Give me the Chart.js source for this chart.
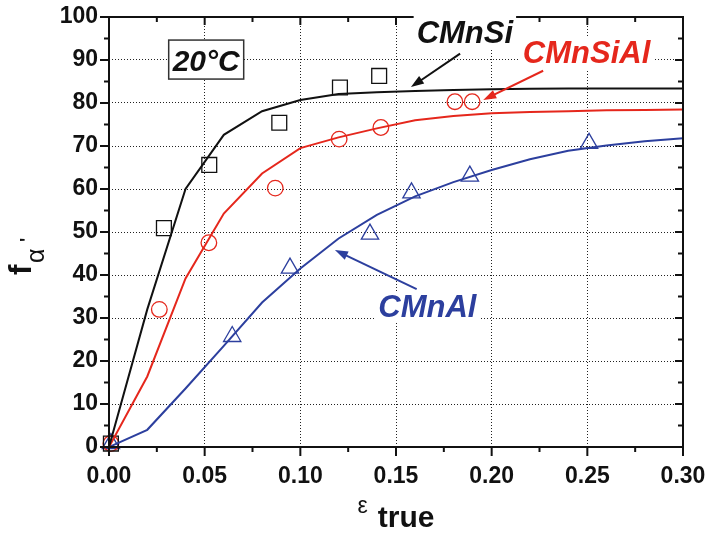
<!DOCTYPE html>
<html>
<head>
<meta charset="utf-8">
<script src="https://cdn.jsdelivr.net/npm/chart.js@4.4.1/dist/chart.umd.min.js"></script>
<style>
html,body{margin:0;padding:0;background:#fff;}
#wrap{width:707px;height:533px;}
</style>
</head>
<body>
<div id="wrap"><canvas id="c" width="707" height="533"></canvas></div>
<script>
// ---- data ----
const fitStrain = [0, 0.02, 0.04, 0.06, 0.08, 0.10, 0.12, 0.14, 0.16, 0.18, 0.20, 0.22, 0.24, 0.26, 0.28, 0.30];
const fitCMnSi   = [0, 32, 60, 72.6, 78.1, 80.7, 82.1, 82.5, 82.8, 83.0, 83.2, 83.3, 83.4, 83.4, 83.4, 83.4];
const fitCMnSiAl = [0, 16.4, 39.2, 54.3, 63.6, 69.5, 72.0, 74.1, 76.0, 77.0, 77.6, 77.9, 78.1, 78.3, 78.4, 78.5];
const fitCMnAl   = [0, 4.0, 13.6, 23.5, 33.6, 41.5, 48.5, 54.0, 58.3, 61.6, 64.4, 66.9, 68.9, 70.1, 71.1, 71.8];

const expCMnSiX   = [0.001, 0.0287, 0.0524, 0.0890, 0.1207, 0.1412];
const expCMnSiY   = [0.8, 50.9, 65.6, 75.4, 83.6, 86.3];
const expCMnSiAlX = [0.001, 0.0263, 0.0522, 0.0869, 0.1203, 0.1421, 0.1808, 0.1898];
const expCMnSiAlY = [0.8, 32.0, 47.5, 60.2, 71.6, 74.3, 80.3, 80.3];
const expCMnAlX   = [0.001, 0.0644, 0.0946, 0.1364, 0.1581, 0.1886, 0.2509];
const expCMnAlY   = [0.8, 25.7, 41.6, 49.5, 59.1, 63.0, 70.6];

const xTicks = [0, 0.05, 0.10, 0.15, 0.20, 0.25, 0.30];
const xMinorTicks = [0.025, 0.075, 0.125, 0.175, 0.225, 0.275];
const yTicks = [0, 10, 20, 30, 40, 50, 60, 70, 80, 90, 100];
const yMinorTicks = [5, 15, 25, 35, 45, 55, 65, 75, 85, 95];

const seriesNames = ['CMnSi', 'CMnSiAl', 'CMnAl'];
// ---- styles ----
const colors = ['#111111', '#e5271c', '#2c3f9e'];
const markers = ['rect', 'circle', 'triangle'];
const markerRadius = [10.5, 7.8, 10];
const FONT = '"Liberation Sans", Arial, sans-serif';

// annotation placement (data coordinates)
const notes = [
  {text: seriesNames[0], color: colors[0], x: 0.186, y: 94.0, ax0: 0.1835, ay0: 91.5, ax1: 0.1578, ay1: 83.7, tallBg: true},
  {text: seriesNames[1], color: colors[1], x: 0.2496, y: 89.3, ax0: 0.2269, ay0: 87.5, ax1: 0.1956, ay1: 80.7},
  {text: seriesNames[2], color: colors[2], x: 0.1664, y: 30.3, ax0: 0.1608, ay0: 36.7, ax1: 0.1181, ay1: 45.8}
];
const tempLabel = {text: '20°C', x: 0.0508, y: 90.1};

const toXY = (xs, ys) => xs.map((v, i) => ({x: v, y: ys[i]}));
const fits = [fitCMnSi, fitCMnSiAl, fitCMnAl];
const expX = [expCMnSiX, expCMnSiAlX, expCMnAlX];
const expY = [expCMnSiY, expCMnSiAlY, expCMnAlY];

const datasets = [];
for (let i = 0; i < 3; i++) {
  datasets.push({
    label: seriesNames[i] + ' fit', data: toXY(fitStrain, fits[i]), showLine: true,
    borderColor: colors[i], borderWidth: 2, pointRadius: 0, tension: 0, fill: false
  });
}
for (let i = 0; i < 3; i++) {
  datasets.push({
    label: seriesNames[i], data: toXY(expX[i], expY[i]), showLine: false,
    pointStyle: markers[i], pointRadius: markerRadius[i], pointBorderWidth: 1.3,
    pointBorderColor: colors[i], pointBackgroundColor: 'rgba(0,0,0,0)', clip: false
  });
}

function line(ctx, x0, y0, x1, y1) { ctx.beginPath(); ctx.moveTo(x0, y0); ctx.lineTo(x1, y1); ctx.stroke(); }

const decorPlugin = {
  id: 'decor',
  afterDatasetsDraw(chart) {
    const {ctx, chartArea: a, scales: {x, y}} = chart;
    ctx.save();
    ctx.strokeStyle = '#111'; ctx.lineWidth = 2; ctx.setLineDash([]);
    ctx.strokeRect(a.left, a.top, a.right - a.left, a.bottom - a.top);
    xTicks.forEach(v => { const p = x.getPixelForValue(v); line(ctx, p, a.bottom, p, a.bottom + 9); line(ctx, p, a.top, p, a.top + 8); });
    xMinorTicks.forEach(v => { const p = x.getPixelForValue(v); line(ctx, p, a.bottom, p, a.bottom + 5); line(ctx, p, a.top, p, a.top + 5); });
    yTicks.forEach(v => { const p = y.getPixelForValue(v); line(ctx, a.left - 9, p, a.left, p); line(ctx, a.right - 8, p, a.right, p); });
    yMinorTicks.forEach(v => { const p = y.getPixelForValue(v); line(ctx, a.left - 5, p, a.left, p); line(ctx, a.right - 5, p, a.right, p); });

    // annotation labels and arrows
    notes.forEach(n => {
      ctx.font = 'italic bold 31px ' + FONT;
      const w = ctx.measureText(n.text).width;
      const cx = x.getPixelForValue(n.x), by = y.getPixelForValue(n.y);
      ctx.fillStyle = '#fff';
      const top = n.tallBg ? by - 30 : by - 25;
      ctx.fillRect(cx - w / 2 - 3, top, w + 6, by + 6 - top);
      ctx.fillStyle = n.color; ctx.textAlign = 'center'; ctx.textBaseline = 'alphabetic';
      ctx.fillText(n.text, cx, by);
      const x0 = x.getPixelForValue(n.ax0), y0 = y.getPixelForValue(n.ay0);
      const x1 = x.getPixelForValue(n.ax1), y1 = y.getPixelForValue(n.ay1);
      const ang = Math.atan2(y1 - y0, x1 - x0), hl = 13, hw = 4.5;
      ctx.strokeStyle = n.color; ctx.fillStyle = n.color; ctx.lineWidth = 2;
      line(ctx, x0, y0, x1 - Math.cos(ang) * hl * 0.8, y1 - Math.sin(ang) * hl * 0.8);
      ctx.beginPath();
      ctx.moveTo(x1, y1);
      ctx.lineTo(x1 - Math.cos(ang) * hl - Math.sin(ang) * hw, y1 - Math.sin(ang) * hl + Math.cos(ang) * hw);
      ctx.lineTo(x1 - Math.cos(ang) * hl + Math.sin(ang) * hw, y1 - Math.sin(ang) * hl - Math.cos(ang) * hw);
      ctx.closePath(); ctx.fill();
    });

    // 20°C box
    const tx = x.getPixelForValue(tempLabel.x), ty = y.getPixelForValue(tempLabel.y);
    ctx.fillStyle = '#fff';
    ctx.fillRect(tx - 37.5, ty - 19.5, 75, 39);
    ctx.strokeStyle = '#333'; ctx.lineWidth = 1.5;
    ctx.strokeRect(tx - 37.5, ty - 19.5, 75, 39);
    ctx.fillStyle = '#111'; ctx.font = 'italic bold 30px ' + FONT;
    ctx.textAlign = 'center'; ctx.textBaseline = 'alphabetic';
    ctx.fillText(tempLabel.text, tx, ty + 11);

    // x axis title: ε true
    const mx = (a.left + a.right) / 2;
    ctx.textAlign = 'left';
    ctx.font = '23px ' + FONT;
    const ew = ctx.measureText('ε').width;
    ctx.font = 'bold 30px ' + FONT;
    const tw = ctx.measureText('true').width;
    const startX = mx - (ew + 10 + tw) / 2;
    ctx.font = '23px ' + FONT; ctx.fillText('ε', startX, a.bottom + 66);
    ctx.font = 'bold 30px ' + FONT; ctx.fillText('true', startX + ew + 10, a.bottom + 80);

    // y axis title: f α '
    ctx.save();
    ctx.translate(31, a.bottom - 172);
    ctx.rotate(-Math.PI / 2);
    ctx.textAlign = 'left';
    ctx.font = 'bold 31px ' + FONT; ctx.fillText('f', 0, 0);
    ctx.font = '25px ' + FONT; ctx.fillText('α', 12, 13);
    ctx.font = 'bold 18px ' + FONT; ctx.fillText("'", 33, 2);
    ctx.restore();

    ctx.restore();
  }
};

new Chart(document.getElementById('c'), {
  type: 'scatter',
  data: {datasets},
  plugins: [decorPlugin],
  options: {
    responsive: false, animation: false,
    layout: {padding: {top: 17, right: 24, bottom: 0, left: 0}},
    plugins: {legend: {display: false}, tooltip: {enabled: false}},
    scales: {
      x: {
        type: 'linear', min: 0, max: 0.3,
        afterBuildTicks: s => { s.ticks = xTicks.map(v => ({value: v})); },
        afterFit: s => { s.height = 86; },
        grid: {color: '#222', lineWidth: 1, drawTicks: true, tickLength: 16, tickColor: 'rgba(0,0,0,0)'},
        border: {display: false, dash: [1, 2]},
        ticks: {padding: 0, color: '#111', font: {family: FONT, size: 23, weight: 'bold'},
                maxRotation: 0, autoSkip: false, callback: v => Number(v).toFixed(2)}
      },
      y: {
        type: 'linear', min: 0, max: 100,
        afterBuildTicks: s => { s.ticks = yTicks.map(v => ({value: v})); },
        afterFit: s => { s.width = 109; },
        grid: {color: '#222', lineWidth: 1, drawTicks: true, tickLength: 11, tickColor: 'rgba(0,0,0,0)'},
        border: {display: false, dash: [1, 2]},
        ticks: {padding: 0, color: '#111', font: {family: FONT, size: 23, weight: 'bold'},
                autoSkip: false, callback: v => String(v)}
      }
    }
  }
});
</script>
</body>
</html>
